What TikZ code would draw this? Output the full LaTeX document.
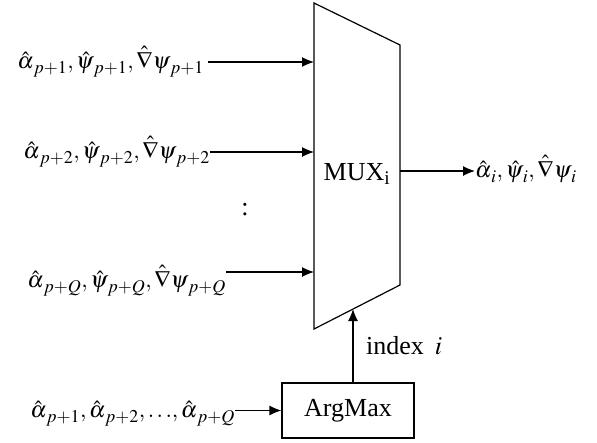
\documentclass[tikz,border=0pt]{standalone}
\usepackage{mathptmx}
\usepackage{fontspec}
\setmainfont{Liberation Serif}
\usetikzlibrary{arrows.meta}
\DeclareMathSizes{23}{23}{18}{14}
\newcommand\lsub[1]{_{\lower2.5pt\hbox{\kern1.5pt$\scriptstyle #1$}}}
\begin{document}
\begin{tikzpicture}[x=1pt,y=-1pt,
  arr/.style={-{Latex[length=12pt,width=10pt]}, line width=1.2pt},
  lbl/.style={font=\fontsize{26}{30}\selectfont, inner sep=0pt},
  mlbl/.style={font=\fontsize{23}{28}\selectfont, inner sep=0pt},
  box/.style={draw, line width=1.2pt}]
\useasboundingbox (0,0) rectangle (597,442);
% MUX trapezoid
\coordinate (tl) at (314,3);
\coordinate (tr) at (400,45);
\coordinate (br) at (400,285);
\coordinate (bl) at (314,329);
\draw[line width=1.2pt] (tl) -- (tr) -- (br) -- (bl) -- cycle;
\node[lbl] (mux) at (357,174) {MUX\textsubscript{i}};
% inputs
\coordinate (m1) at (314,62);
\coordinate (m2) at (314,152);
\coordinate (m3) at (314,272);
\node[mlbl, anchor=base east] (in1) at (204,68) {$\hat\alpha\lsub{p+1}, \hat\psi\lsub{p+1}, \hat\nabla\psi\lsub{p+1}$};
\node[mlbl, anchor=base east] (in2) at (210,158) {$\hat\alpha\lsub{p+2}, \hat\psi\lsub{p+2}, \hat\nabla\psi\lsub{p+2}$};
\node[mlbl, anchor=base east] (in3) at (226,287) {$\hat\alpha\lsub{p+Q}, \hat\psi\lsub{p+Q}, \hat\nabla\psi\lsub{p+Q}$};
\draw[arr] (in1.east |- m1) ++(4,0) -- (m1);
\draw[arr] (in2.east |- m2) -- (m2);
\draw[arr] (in3.east |- m3) -- (m3);
\node[lbl] (dots) at (245,210) {:};
% output
\coordinate (mo) at (400,171);
\node[mlbl, anchor=base west] (out) at (475,177) {$\hat\alpha\lsub{i}, \hat\psi\lsub{i}, \hat\nabla\psi\lsub{i}$};
\draw[arr] (mo) -- (out.west |- mo);
% ArgMax
\node[box, lbl, minimum width=132pt, minimum height=55pt] (argmax) at (348,410.5) {ArgMax};
\coordinate (mb) at (353,309);
\draw[arr] (argmax.north -| mb) -- (mb);
\node[lbl, anchor=base west] (idx) at (366,354) {index \,$i$};
\node[mlbl, anchor=base east] (ain) at (235,417) {$\hat\alpha\lsub{p+1}, \hat\alpha\lsub{p+2}, {\ldots}, \hat\alpha\lsub{p+Q}$};
\draw[arr] (ain.east |- argmax) -- (argmax.west);
\end{tikzpicture}
\end{document}
